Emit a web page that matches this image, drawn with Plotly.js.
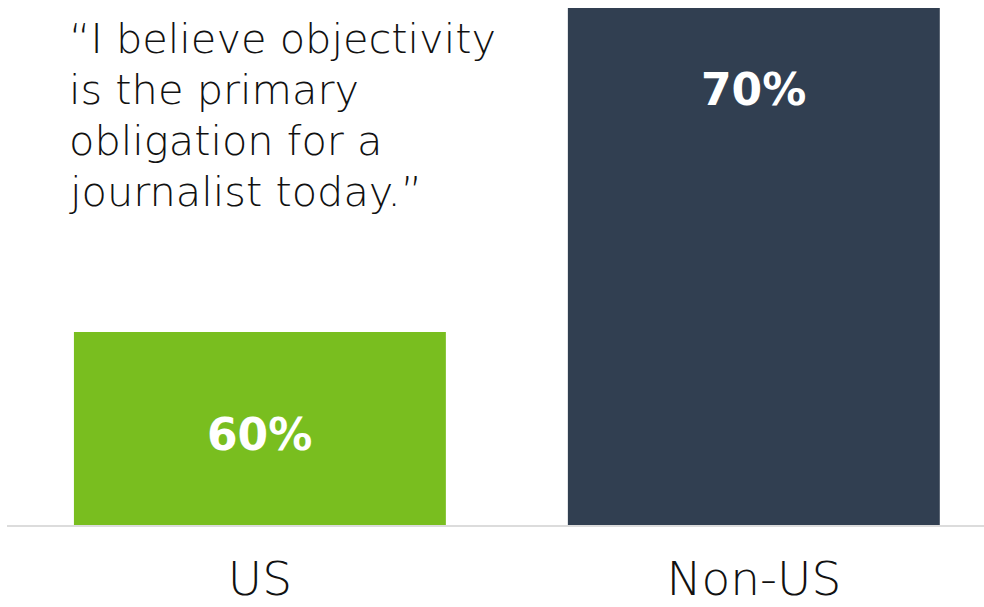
<!DOCTYPE html>
<html>
<head>
<meta charset="utf-8">
<script src="https://cdn.plot.ly/plotly-3.0.1.min.js"></script>
<style>html,body{margin:0;padding:0;background:#fff;}#chart{width:984px;height:607px;}</style>
</head>
<body>
<div id="chart"></div>
<script>
const categories = ["US", "Non-US"];
const values = [60, 70];
const barColors = ["#79BE1F", "#313F51"];
const quoteLines = ["“I believe objectivity", "is the primary", "obligation for a", "journalist today.”"];
const labelShift = [-75, -54];

const trace = {
  type: "bar",
  x: categories,
  y: values,
  marker: {color: barColors, line: {width: 0}},
  width: 0.753,
  hoverinfo: "none",
  textposition: "none"
};

const annotations = categories.map((c, i) => ({
  x: c, y: values[i], xref: "x", yref: "y",
  text: values[i] + "%",
  showarrow: false, yanchor: "top", yshift: labelShift[i],
  font: {family: "DejaVu Sans", size: 44, color: "#ffffff", weight: 700}
}));
quoteLines.forEach((line, i) => {
  annotations.push({
    xref: "paper", yref: "paper", x: 0.0686, y: 1.0, xanchor: "left", yanchor: "top",
    xshift: -7, yshift: -4 - i * 51,
    text: line, align: "left", showarrow: false,
    font: {family: "DejaVu Sans", size: 41.5, color: "#111111", weight: 200}
  });
});

const layout = {
  width: 984, height: 607,
  margin: {l: 7, r: 0, t: 8, b: 82, pad: 0},
  paper_bgcolor: "#ffffff", plot_bgcolor: "#ffffff",
  showlegend: false,
  xaxis: {
    range: [-0.512, 1.466], showgrid: false, zeroline: false,
    showline: true, linecolor: "#dcdcdc", linewidth: 2,
    ticks: "", ticklabelstandoff: 12,
    tickfont: {family: "DejaVu Sans", size: 47, color: "#111111", weight: 200}
  },
  yaxis: {range: [54.04, 70], visible: false, showgrid: false, zeroline: false},
  annotations: annotations
};

Plotly.newPlot("chart", [trace], layout, {displayModeBar: false, staticPlot: true});
</script>
</body>
</html>
